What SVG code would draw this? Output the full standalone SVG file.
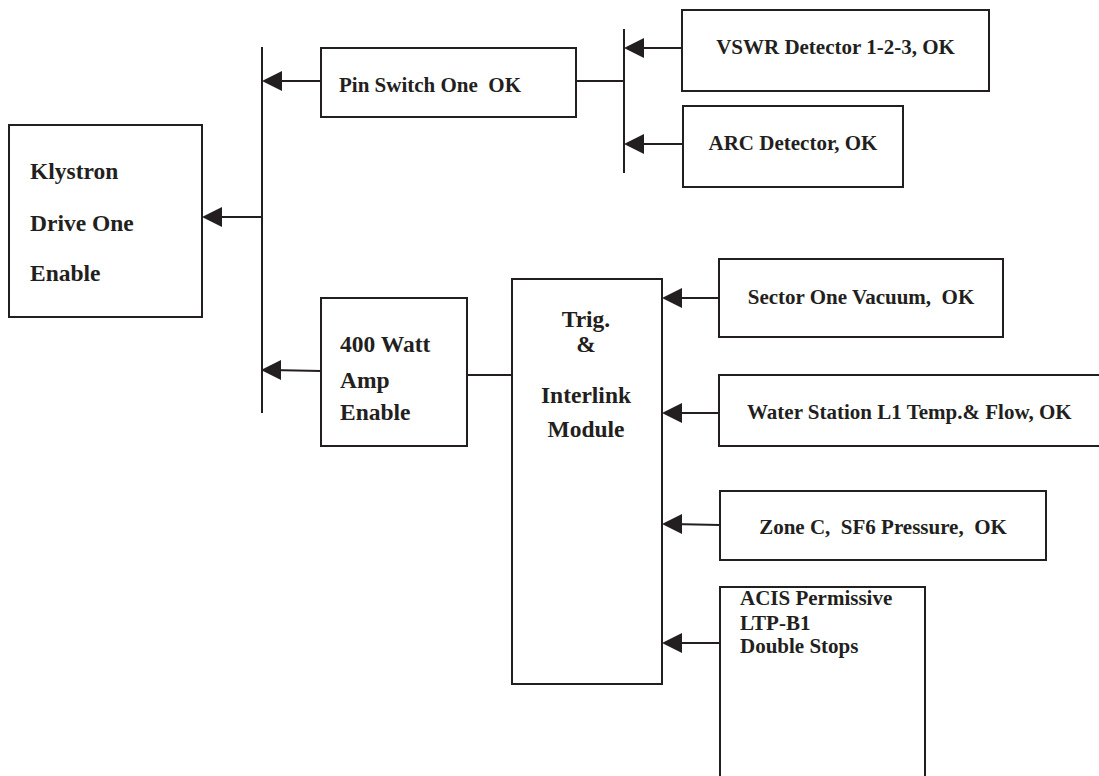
<svg xmlns="http://www.w3.org/2000/svg" width="1099" height="776" viewBox="0 0 1099 776">
<style>
.box{fill:#fff;stroke:#231f20;stroke-width:2}
.ln{fill:none;stroke:#231f20;stroke-width:2}
.ah{fill:#231f20;stroke:none}
text{font-family:"Liberation Serif","Times New Roman",serif;font-weight:bold;fill:#231f20;white-space:pre}
.s{font-size:21px}
.l{font-size:23.5px}
.c{text-anchor:middle}
</style>
<defs>
<path id="arr" d="M0,0 L20,-10 L20,10 Z"/>
</defs>
<rect width="1099" height="776" fill="#fff"/>
<g id="connectors">
<line class="ln" x1="262" y1="47" x2="262" y2="413"/>
<line class="ln" x1="624" y1="29" x2="624" y2="173"/>
<line class="ln" x1="262" y1="217" x2="212" y2="217"/>
<use href="#arr" class="ah" x="202" y="217"/>
<line class="ln" x1="321" y1="81" x2="272" y2="81"/>
<use href="#arr" class="ah" x="262" y="81"/>
<line class="ln" x1="321" y1="371" x2="271" y2="370"/>
<use href="#arr" class="ah" x="261" y="370"/>
<line class="ln" x1="576" y1="81" x2="624" y2="81"/>
<line class="ln" x1="682" y1="48" x2="634" y2="48"/>
<use href="#arr" class="ah" x="624" y="48"/>
<line class="ln" x1="683" y1="144" x2="634" y2="144"/>
<use href="#arr" class="ah" x="624" y="144"/>
<line class="ln" x1="467" y1="375" x2="512" y2="375"/>
<line class="ln" x1="719" y1="298" x2="672" y2="298"/>
<use href="#arr" class="ah" x="662" y="298"/>
<line class="ln" x1="719" y1="413" x2="672" y2="413"/>
<use href="#arr" class="ah" x="662" y="413"/>
<line class="ln" x1="720" y1="525" x2="672" y2="524"/>
<use href="#arr" class="ah" x="662" y="524"/>
<line class="ln" x1="720" y1="643" x2="672" y2="643"/>
<use href="#arr" class="ah" x="662" y="643"/>
</g>
<g id="klystron">
<rect class="box" x="9" y="125" width="193" height="192"/>
<text class="l" x="30" y="179">Klystron</text>
<text class="l" x="30" y="231">Drive One</text>
<text class="l" x="30" y="281">Enable</text>
</g>
<g id="pinswitch">
<rect class="box" x="321" y="48" width="255" height="69"/>
<text class="s" x="339" y="92">Pin Switch One  OK</text>
</g>
<g id="vswr">
<rect class="box" x="682" y="10" width="307" height="81"/>
<text class="s c" x="835.5" y="54">VSWR Detector 1-2-3, OK</text>
</g>
<g id="arc">
<rect class="box" x="683" y="106" width="220" height="81"/>
<text class="s c" x="793" y="150">ARC Detector, OK</text>
</g>
<g id="amp400">
<rect class="box" x="321" y="298" width="146" height="148"/>
<text class="l" x="340" y="352">400 Watt</text>
<text class="l" x="340" y="388">Amp</text>
<text class="l" x="340" y="420">Enable</text>
</g>
<g id="trig">
<rect class="box" x="512" y="279" width="150" height="405"/>
<text class="l c" x="586" y="327">Trig.</text>
<text class="l c" x="586" y="352">&amp;</text>
<text class="l c" x="586" y="403">Interlink</text>
<text class="l c" x="586" y="437">Module</text>
</g>
<g id="sector">
<rect class="box" x="719" y="259" width="284" height="78"/>
<text class="s c" x="861" y="304">Sector One Vacuum,  OK</text>
</g>
<g id="water">
<rect class="box" x="719" y="375" width="400" height="71"/>
<text class="s" x="747" y="419">Water Station L1 Temp.&amp; Flow, OK</text>
</g>
<g id="zone">
<rect class="box" x="720" y="491" width="326" height="69"/>
<text class="s c" x="883" y="534">Zone C,  SF6 Pressure,  OK</text>
</g>
<g id="acis">
<rect class="box" x="720" y="587" width="205" height="200"/>
<text class="s" x="740" y="605">ACIS Permissive</text>
<text class="s" x="740" y="630">LTP-B1</text>
<text class="s" x="740" y="653">Double Stops</text>
</g>
</svg>
